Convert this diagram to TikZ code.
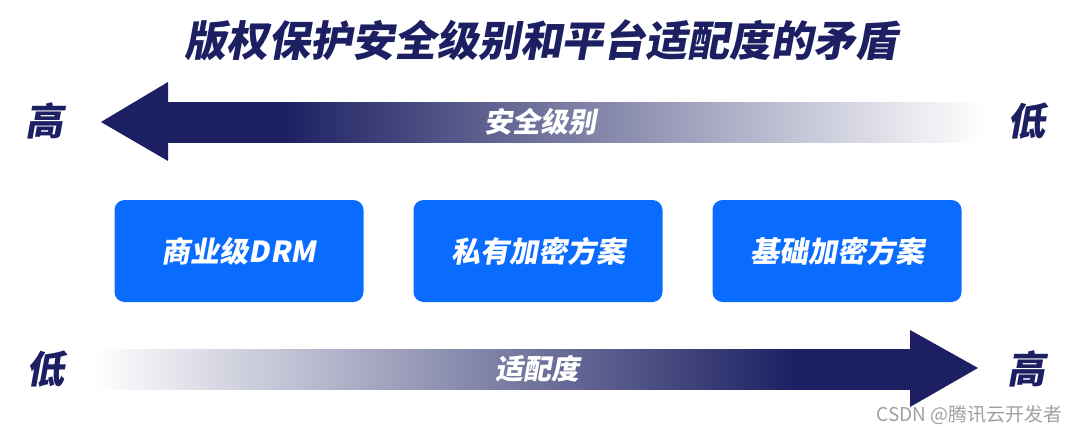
\documentclass[tikz,border=0pt]{standalone}
\usepackage{fontspec}
\newfontfamily\cjk{Noto Sans CJK SC}[FakeSlant=0.18]
\newfontfamily\cjkup{Noto Sans CJK SC}
\definecolor{navy}{HTML}{1C2062}
\definecolor{boxblue}{HTML}{0A6CFF}
\definecolor{wmgray}{HTML}{A0A0A0}
\pgfdeclarehorizontalshading{faderight}{100bp}{color(0bp)=(navy); color(25bp)=(navy); color(32bp)=(navy); color(75bp)=(white); color(100bp)=(white)}
\pgfdeclarehorizontalshading{fadeleft}{100bp}{color(0bp)=(white); color(25bp)=(white); color(68bp)=(navy); color(75bp)=(navy); color(100bp)=(navy)}
\tikzset{
  title/.style={text=navy, font=\cjk\bfseries\fontsize{42}{42}\selectfont},
  endlabel/.style={text=navy, font=\cjk\bfseries\fontsize{38}{38}\selectfont},
  arrowlabel/.style={text=white, font=\cjk\bfseries\fontsize{28}{28}\selectfont},
  methodbox/.style={fill=boxblue, rounded corners=10pt, minimum width=249pt, minimum height=102pt, text=white, font=\cjk\bfseries\fontsize{29}{29}\selectfont, inner sep=0pt},
  headfill/.style={fill=navy, draw=none},
  watermark/.style={text=wmgray, font=\cjkup\fontsize{19}{19}\selectfont, anchor=east}
}
\begin{document}
\begin{tikzpicture}[x=1pt,y=-1pt]
\useasboundingbox (0,0) rectangle (1080,434);
% title
\node[title] (title) at (541,40) {版权保护安全级别和平台适配度的矛盾};
% top arrow (security level)
\shade[shading=faderight] (166,102) rectangle (982,142);
\fill[headfill] (101,122) -- (168,82) -- (168,161) -- cycle;
\coordinate (topshaft) at (540,122);
\node[arrowlabel] (seclabel) at (topshaft) {安全级别};
\node[endlabel] (tophigh) at (44,121) {高};
\node[endlabel] (toplow) at (1026,121) {低};
% boxes
\node[methodbox] (drm) at (239,251) {商业级DRM};
\node[methodbox] (priv) at (538,251) {私有加密方案};
\node[methodbox] (basic) at (837,251) {基础加密方案};
% bottom arrow (platform fit)
\shade[shading=fadeleft] (95,349) rectangle (912,389);
\fill[headfill] (978,368) -- (910,330) -- (910,407) -- cycle;
\coordinate (botshaft) at (537,369);
\node[arrowlabel] (fitlabel) at (botshaft) {适配度};
\node[endlabel] (botlow) at (46,369) {低};
\node[endlabel] (bothigh) at (1026,369) {高};
% watermark
\node[watermark] (wm) at (1066,415) {CSDN @腾讯云开发者};
\end{tikzpicture}
\end{document}
